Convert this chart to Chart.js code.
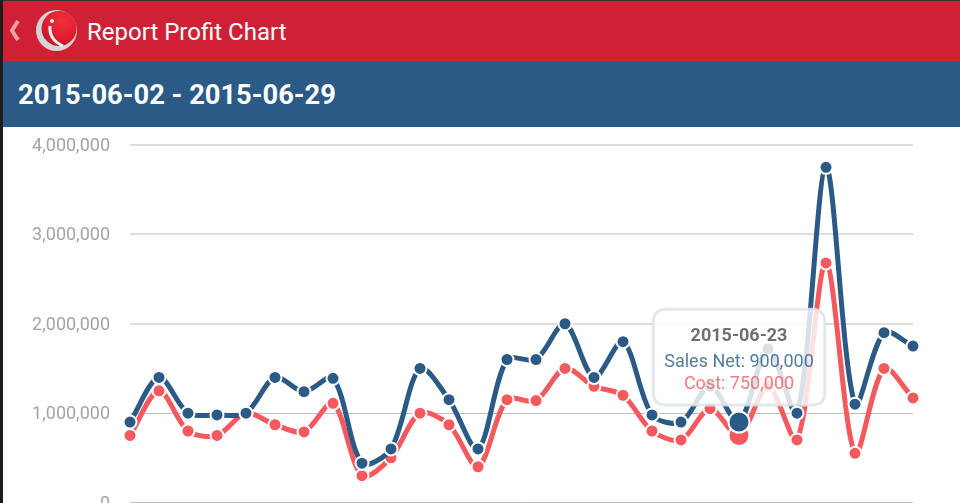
<!DOCTYPE html>
<html>
<head>
<meta charset="utf-8">
<title>Report Profit Chart</title>
<script src="https://cdn.jsdelivr.net/npm/chart.js@4"></script>
<style>
    html, body { margin: 0; padding: 0; background: #fff; }
    #page { position: relative; width: 960px; height: 503px; overflow: hidden; font-family: Roboto, sans-serif; }
    #edge { position: absolute; left: 0; top: 0; width: 3px; height: 503px; background: #1c1c1c; z-index: 5; }
    #topEdge { position: absolute; left: 0; top: 0; width: 960px; height: 1px; background: #333; }
    #titleBar { position: absolute; left: 0; top: 1px; width: 960px; height: 60px; background: #d02035; }
    #titleBar span { position: absolute; left: 87px; top: 15px; color: #fff; font-size: 24px; line-height: 32px; }
    #dateBar { position: absolute; left: 0; top: 61px; width: 960px; height: 66px; background: #2a5a85; }
    #dateBar span { position: absolute; left: 18px; top: 17px; color: #fff; font-size: 27.3px; font-weight: bold; line-height: 34px; }
    #back { position: absolute; left: 7px; top: 18px; }
    #logo { position: absolute; left: 35px; top: 8px; }
    #chartWrap { position: absolute; left: 0; top: 127px; width: 960px; height: 400px; }
</style>
</head>
<body>
<div id="page">
    <div id="topEdge"></div>
    <div id="titleBar">
        <svg id="back" width="14" height="24" viewBox="0 0 14 24">
            <polyline points="11,2 5,11.5 11,21" fill="none" stroke="#f0a0a8" stroke-width="4"/>
        </svg>
        <svg id="logo" width="43" height="43" viewBox="0 0 43 43">
            <defs>
                <radialGradient id="ball" cx="0.6" cy="0.3" r="0.8">
                    <stop offset="0" stop-color="#f2303c"/>
                    <stop offset="0.6" stop-color="#e01c2c"/>
                    <stop offset="1" stop-color="#b01826"/>
                </radialGradient>
            </defs>
            <circle cx="21.5" cy="21.5" r="20.5" fill="#d4d4d4"/>
            <circle cx="24" cy="19.5" r="17.5" fill="url(#ball)"/>
            <path d="M15 17 C14 27 19 33 28 37" fill="none" stroke="#f4f4f4" stroke-width="3"/>
            <circle cx="17" cy="12" r="2" fill="#f4f4f4"/>
        </svg>
        <span>Report Profit Chart</span>
    </div>
    <div id="dateBar"><span>2015-06-02 - 2015-06-29</span></div>
    <div id="chartWrap"><canvas id="profitChart" width="960" height="400"></canvas></div>
    <div id="edge"></div>
</div>
<script>
const dates = ['2015-06-02', '2015-06-03', '2015-06-04', '2015-06-05', '2015-06-06', '2015-06-07', '2015-06-08',
    '2015-06-09', '2015-06-10', '2015-06-11', '2015-06-12', '2015-06-13', '2015-06-14', '2015-06-15',
    '2015-06-16', '2015-06-17', '2015-06-18', '2015-06-19', '2015-06-20', '2015-06-21', '2015-06-22',
    '2015-06-23', '2015-06-24', '2015-06-25', '2015-06-26', '2015-06-27', '2015-06-28', '2015-06-29'];
const salesNet = [900000, 1400000, 1000000, 980000, 1000000, 1400000, 1240000, 1390000, 440000, 600000,
    1500000, 1150000, 600000, 1600000, 1600000, 2000000, 1400000, 1800000, 980000, 900000,
    1300000, 900000, 1720000, 1000000, 3750000, 1100000, 1900000, 1750000];
const cost = [750000, 1250000, 800000, 750000, 1000000, 870000, 790000, 1110000, 300000, 500000,
    1000000, 870000, 400000, 1150000, 1140000, 1500000, 1300000, 1200000, 800000, 700000,
    1050000, 750000, 1300000, 700000, 2680000, 550000, 1500000, 1170000];
const highlightDate = '2015-06-23';

const SALES_COLOR = '#2a5a85';
const COST_COLOR = '#f4595e';

// Box sits just above the highlighted point, like the original tap popup
Chart.Tooltip.positioners.abovePoint = function (items) {
    if (!items.length) return false;
    return { x: items[0].element.x, y: items[0].element.y - 17 };
};

function makeDataset(label, data, color) {
    return {
        label: label,
        data: data,
        borderColor: color,
        backgroundColor: color,
        borderWidth: 5,
        tension: 0.3,
        pointRadius: 6.5,
        pointBorderWidth: 2,
        pointBorderColor: '#ffffff',
        pointBackgroundColor: color,
        pointHoverRadius: 10.5,
        pointHoverBorderWidth: 2,
        pointHoverBorderColor: '#ffffff',
        pointHoverBackgroundColor: color
    };
}

const chart = new Chart(document.getElementById('profitChart').getContext('2d'), {
    type: 'line',
    data: {
        labels: dates,
        datasets: [makeDataset('Sales Net', salesNet, SALES_COLOR), makeDataset('Cost', cost, COST_COLOR)]
    },
    options: {
        responsive: false,
        animation: false,
        events: [],
        layout: { padding: { top: 18, right: 47, bottom: 24.5, left: 0 } },
        scales: {
            x: { display: false },
            y: {
                min: 0,
                max: 4000000,
                afterFit: (scale) => { scale.width = 130; },
                border: { display: false },
                grid: {
                    color: (ctx) => ctx.tick.value <= 1000000 ? '#bdbdbd' : '#dcdcdc',
                    lineWidth: (ctx) => ctx.tick.value <= 1000000 ? 1 : 2,
                    // ticks.padding also grows the scale's top/bottom padding, so use an invisible tick for the gap
                    tickLength: 20,
                    tickColor: 'transparent'
                },
                ticks: {
                    stepSize: 1000000,
                    padding: 0,
                    labelOffset: 1.5,
                    color: '#a4a4a4',
                    font: { family: 'Roboto', size: 18 },
                    callback: (value) => value.toLocaleString('en-US')
                }
            }
        },
        plugins: {
            legend: { display: false },
            title: { display: false },
            tooltip: {
                position: 'abovePoint',
                mode: 'index',
                xAlign: 'center',
                yAlign: 'bottom',
                caretSize: 0,
                caretPadding: 0,
                displayColors: false,
                backgroundColor: 'rgba(255, 255, 255, 0.82)',
                borderColor: 'rgba(225, 228, 232, 0.85)',
                borderWidth: 3,
                cornerRadius: 13,
                padding: { top: 16, bottom: 10, left: 11, right: 11 },
                titleColor: '#707070',
                titleAlign: 'center',
                bodyAlign: 'center',
                titleFont: { family: 'Roboto', size: 18, weight: 'bold' },
                bodyFont: { family: 'Roboto', size: 18 },
                titleMarginBottom: 5,
                bodySpacing: 0,
                callbacks: {
                    label: (item) => item.dataset.label + ': ' + item.parsed.y.toLocaleString('en-US'),
                    labelTextColor: (item) => item.dataset.borderColor + 'cc'
                }
            }
        }
    }
});

// Show the popup for the selected day
const dayIndex = dates.indexOf(highlightDate);
const active = [{ datasetIndex: 0, index: dayIndex }, { datasetIndex: 1, index: dayIndex }];
chart.setActiveElements(active);
chart.tooltip.setActiveElements(active, { x: 0, y: 0 });
chart.update();
</script>
</body>
</html>
